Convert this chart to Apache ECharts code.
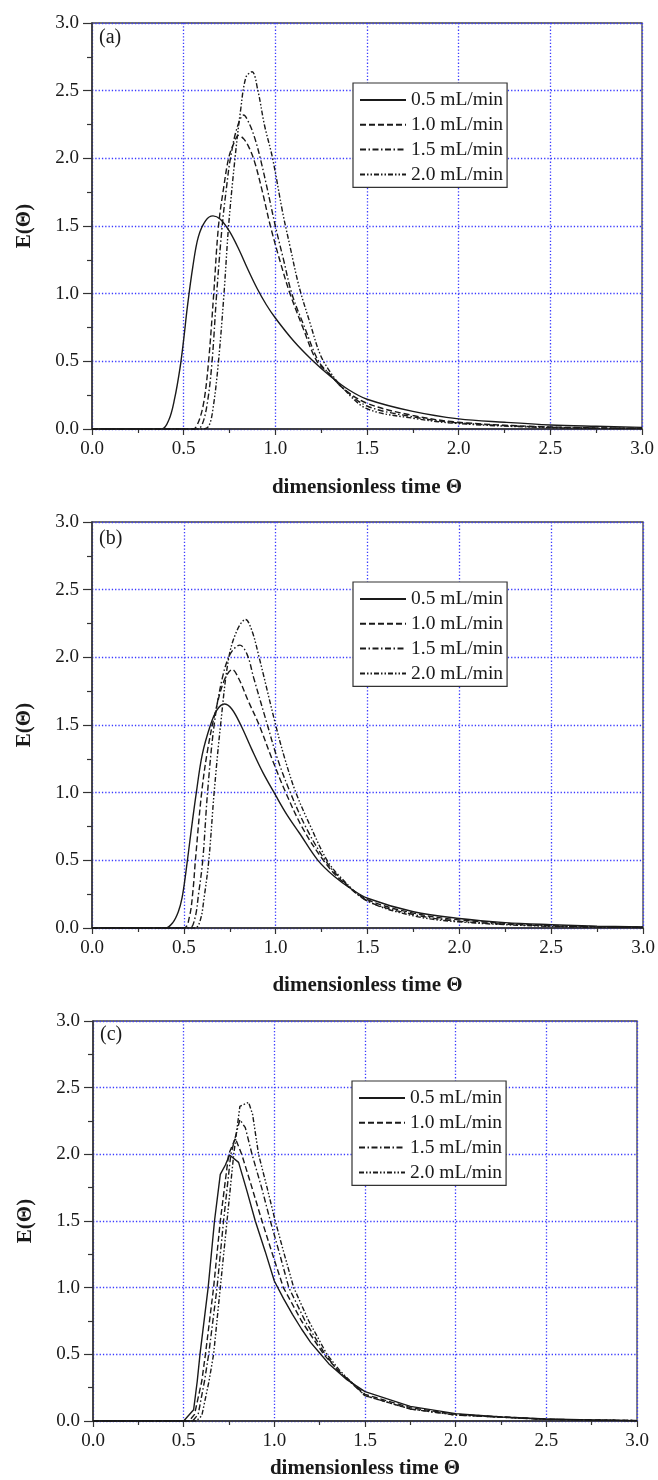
<!DOCTYPE html>
<html><head><meta charset="utf-8">
<script src="https://cdn.jsdelivr.net/npm/echarts@6/dist/echarts.min.js"></script>
<style>html,body{margin:0;padding:0;background:#fff}#c{width:658px;height:1480px}</style>
</head><body><div id="c"></div>
<script>
// ---- labels ----
const seriesNames = ['0.5 mL/min', '1.0 mL/min', '1.5 mL/min', '2.0 mL/min'];
const panelLabels = ['(a)', '(b)', '(c)'];
const xAxisName = 'dimensionless time \u0398';
const yAxisName = 'E(\u0398)';

// ---- panel (a) ----
const a05_t = [0, 0.38, 0.42, 0.45, 0.48, 0.5, 0.52, 0.55, 0.58, 0.62, 0.66, 0.7, 0.75, 0.8, 0.85, 0.9, 0.95, 1.0, 1.1, 1.2, 1.3, 1.4, 1.5, 1.75, 2.0, 2.25, 2.5, 2.75, 3.0];
const a05_E = [0, 0, 0.07, 0.22, 0.45, 0.66, 0.9, 1.2, 1.42, 1.54, 1.575, 1.55, 1.46, 1.33, 1.18, 1.04, 0.92, 0.82, 0.65, 0.51, 0.39, 0.29, 0.22, 0.13, 0.075, 0.05, 0.03, 0.02, 0.012];
const a10_t = [0, 0.55, 0.58, 0.61, 0.636, 0.664, 0.69, 0.72, 0.745, 0.77, 0.8, 0.83, 0.86, 0.89, 0.93, 0.973, 1.03, 1.08, 1.15, 1.227, 1.3, 1.37, 1.5, 1.75, 2.0, 2.5, 3.0];
const a10_E = [0, 0, 0.05, 0.2, 0.5, 1.0, 1.5, 1.8, 2.0, 2.1, 2.17, 2.14, 2.07, 1.96, 1.75, 1.5, 1.22, 1.0, 0.75, 0.5, 0.4, 0.3, 0.19, 0.1, 0.05, 0.015, 0.005];
const a15_t = [0, 0.57, 0.6, 0.63, 0.655, 0.68, 0.71, 0.735, 0.755, 0.79, 0.827, 0.86, 0.89, 0.918, 0.96, 1.0, 1.045, 1.09, 1.16, 1.236, 1.3, 1.37, 1.5, 1.75, 2.0, 2.5, 3.0];
const a15_E = [0, 0, 0.03, 0.2, 0.5, 1.0, 1.5, 1.8, 2.0, 2.22, 2.32, 2.25, 2.14, 2.0, 1.75, 1.5, 1.25, 1.0, 0.75, 0.5, 0.4, 0.3, 0.17, 0.09, 0.045, 0.013, 0.004];
const a20_t = [0, 0.6, 0.636, 0.66, 0.69, 0.72, 0.745, 0.78, 0.81, 0.84, 0.873, 0.905, 0.94, 0.985, 1.04, 1.08, 1.13, 1.19, 1.245, 1.3, 1.37, 1.5, 1.75, 2.0, 2.5, 3.0];
const a20_E = [0, 0, 0.02, 0.15, 0.5, 1.0, 1.5, 2.0, 2.35, 2.6, 2.64, 2.5, 2.25, 2.0, 1.6, 1.35, 1.05, 0.78, 0.55, 0.42, 0.3, 0.15, 0.08, 0.04, 0.01, 0.003];

// ---- panel (b) ----
const b05_t = [0, 0.4, 0.44, 0.47, 0.49, 0.51, 0.54, 0.568, 0.6, 0.645, 0.68, 0.72, 0.76, 0.81, 0.87, 0.93, 1.0, 1.06, 1.13, 1.23, 1.32, 1.41, 1.5, 1.75, 2.0, 2.25, 2.5, 2.75, 3.0];
const b05_E = [0, 0, 0.04, 0.12, 0.22, 0.4, 0.72, 1.0, 1.28, 1.5, 1.61, 1.655, 1.62, 1.5, 1.32, 1.15, 0.98, 0.84, 0.7, 0.5, 0.38, 0.29, 0.22, 0.12, 0.07, 0.04, 0.025, 0.014, 0.008];
const b10_t = [0, 0.5, 0.53, 0.55, 0.563, 0.597, 0.63, 0.672, 0.72, 0.764, 0.8, 0.85, 0.91, 0.98, 1.055, 1.15, 1.26, 1.35, 1.5, 1.75, 2.0, 2.5, 3.0];
const b10_E = [0, 0, 0.08, 0.28, 0.5, 1.0, 1.32, 1.6, 1.83, 1.91, 1.84, 1.68, 1.5, 1.25, 1.0, 0.73, 0.5, 0.36, 0.21, 0.11, 0.06, 0.018, 0.006];
const b15_t = [0, 0.53, 0.56, 0.58, 0.603, 0.629, 0.665, 0.71, 0.755, 0.805, 0.845, 0.88, 0.955, 1.01, 1.08, 1.17, 1.27, 1.35, 1.5, 1.75, 2.0, 2.5, 3.0];
const b15_E = [0, 0, 0.07, 0.25, 0.5, 1.0, 1.5, 1.85, 2.03, 2.09, 2.02, 1.85, 1.5, 1.25, 1.0, 0.73, 0.5, 0.37, 0.2, 0.1, 0.05, 0.015, 0.005];
const b20_t = [0, 0.56, 0.59, 0.61, 0.636, 0.665, 0.7, 0.745, 0.79, 0.836, 0.87, 0.91, 1.0, 1.05, 1.11, 1.19, 1.28, 1.35, 1.5, 1.75, 2.0, 2.5, 3.0];
const b20_E = [0, 0, 0.06, 0.22, 0.5, 1.0, 1.5, 2.0, 2.2, 2.28, 2.2, 2.0, 1.5, 1.25, 1.0, 0.75, 0.5, 0.38, 0.2, 0.09, 0.045, 0.012, 0.004];

// ---- panel (c) ----
const c05_t = [0, 0.5, 0.555, 0.575, 0.59, 0.635, 0.67, 0.702, 0.73, 0.753, 0.803, 0.85, 0.895, 0.95, 1.0, 1.05, 1.1, 1.15, 1.2, 1.25, 1.3, 1.4, 1.5, 1.75, 2.0, 2.25, 2.5, 2.75, 3.0];
const c05_E = [0, 0, 0.085, 0.3, 0.5, 1.0, 1.5, 1.85, 1.92, 1.995, 1.94, 1.72, 1.5, 1.27, 1.05, 0.92, 0.8, 0.69, 0.59, 0.51, 0.43, 0.31, 0.22, 0.11, 0.055, 0.03, 0.015, 0.007, 0.003];
const c10_t = [0, 0.53, 0.56, 0.6, 0.62, 0.665, 0.702, 0.748, 0.785, 0.82, 0.87, 0.932, 0.99, 1.05, 1.15, 1.272, 1.35, 1.5, 1.75, 2.0, 2.5, 3.0];
const c10_E = [0, 0, 0.05, 0.3, 0.5, 1.0, 1.5, 2.0, 2.12, 2.0, 1.78, 1.5, 1.25, 1.0, 0.75, 0.5, 0.38, 0.2, 0.1, 0.05, 0.013, 0.003];
const c15_t = [0, 0.55, 0.58, 0.615, 0.638, 0.684, 0.72, 0.76, 0.81, 0.84, 0.877, 0.93, 0.978, 1.03, 1.08, 1.17, 1.28, 1.35, 1.5, 1.75, 2.0, 2.5, 3.0];
const c15_E = [0, 0, 0.05, 0.3, 0.5, 1.0, 1.5, 2.0, 2.26, 2.2, 2.0, 1.75, 1.5, 1.25, 1.0, 0.75, 0.5, 0.38, 0.19, 0.09, 0.045, 0.012, 0.003];
const c20_t = [0, 0.57, 0.6, 0.64, 0.665, 0.702, 0.739, 0.776, 0.81, 0.858, 0.88, 0.913, 0.96, 1.005, 1.055, 1.107, 1.19, 1.29, 1.36, 1.5, 1.75, 2.0, 2.5, 3.0];
const c20_E = [0, 0, 0.04, 0.3, 0.5, 1.0, 1.5, 2.0, 2.36, 2.39, 2.3, 2.0, 1.75, 1.5, 1.25, 1.0, 0.75, 0.5, 0.38, 0.19, 0.09, 0.045, 0.012, 0.003];

// ---- build ----
const SERIF = '"Liberation Serif", "Times New Roman", serif';
const INK = '#1a1a1a';
const AX = '#333';
const dashes = ['solid', [6, 3], [6, 2.5, 1.5, 2.5], [5, 2, 1.5, 2, 1.5, 2]];
const panels = [
  [[a05_t, a05_E], [a10_t, a10_E], [a15_t, a15_E], [a20_t, a20_E]],
  [[b05_t, b05_E], [b10_t, b10_E], [b15_t, b15_E], [b20_t, b20_E]],
  [[c05_t, c05_E], [c10_t, c10_E], [c15_t, c15_E], [c20_t, c20_E]]
];
const zip = (t, e) => t.map((v, i) => [v, e[i]]);

const grids = [
  {left: 92, top: 23, width: 550, height: 406},
  {left: 92, top: 522, width: 551, height: 406},
  {left: 93, top: 1021, width: 544, height: 402}
];
const xNameGaps = [48, 47, 37];
const legendPos = [{left: 353, top: 83}, {left: 353, top: 582}, {left: 352, top: 1081}];
const labelTops = [28, 529, 1025];

const option = {
  animation: false,
  backgroundColor: '#fff',
  grid: grids.map(g => Object.assign({show: true, borderColor: '#444', borderWidth: 1.3, backgroundColor: 'transparent'}, g)),
  title: panelLabels.map((t, i) => ({
    text: t, left: grids[i].left + 7, top: labelTops[i], padding: 0,
    textStyle: {fontFamily: SERIF, fontWeight: 'normal', fontSize: 20, color: INK}
  })),
  legend: legendPos.map(p => ({
    data: seriesNames.map(n => ({name: n, itemStyle: {opacity: 0}})),
    orient: 'vertical', left: p.left, top: p.top,
    itemWidth: 46, itemHeight: 14, itemGap: 4.8, padding: [7, 4, 3, 6],
    borderColor: '#333', borderWidth: 1.2, backgroundColor: '#fff',
    itemStyle: {opacity: 0},
    textStyle: {fontFamily: SERIF, fontSize: 19.5, color: INK},
    selectedMode: false
  })),
  xAxis: grids.map((g, i) => ({
    type: 'value', gridIndex: i, min: 0, max: 3, interval: 0.5,
    name: xAxisName, nameLocation: 'middle', nameGap: xNameGaps[i],
    nameTextStyle: {fontFamily: SERIF, fontWeight: 'bold', fontSize: 21, color: INK},
    axisLine: {show: true, onZero: false, lineStyle: {color: AX, width: 1.5}},
    axisTick: {show: true, length: 6, lineStyle: {color: AX, width: 1.2}},
    minorTick: {show: true, splitNumber: 2, length: 4, lineStyle: {color: AX, width: 1.2}},
    axisLabel: {fontFamily: SERIF, fontSize: 19, color: INK, margin: 11, formatter: v => v.toFixed(1)},
    splitLine: {show: true, lineStyle: {color: '#3b3bff', type: [1.3, 2], width: 1.3}}
  })),
  yAxis: grids.map((g, i) => ({
    type: 'value', gridIndex: i, min: 0, max: 3, interval: 0.5,
    name: yAxisName, nameLocation: 'middle', nameGap: 57,
    nameTextStyle: {fontFamily: SERIF, fontWeight: 'bold', fontSize: 21, color: INK},
    axisLine: {show: true, onZero: false, lineStyle: {color: AX, width: 1.5}},
    axisTick: {show: true, length: 9, lineStyle: {color: AX, width: 1.2}},
    minorTick: {show: true, splitNumber: 2, length: 5, lineStyle: {color: AX, width: 1.2}},
    axisLabel: {fontFamily: SERIF, fontSize: 19, color: INK, margin: 13, formatter: v => v.toFixed(1)},
    splitLine: {show: true, lineStyle: {color: '#3b3bff', type: [1.3, 2], width: 1.3}}
  })),
  series: []
};

panels.forEach((panel, pi) => {
  panel.forEach((s, si) => {
    option.series.push({
      type: 'line', name: seriesNames[si], xAxisIndex: pi, yAxisIndex: pi,
      data: zip(s[0], s[1]),
      showSymbol: false, symbol: 'none',
      smooth: pi === 2 ? false : 0.35,
      lineStyle: {color: INK, width: 1.4, type: dashes[si]},
      itemStyle: {color: INK},
      z: 3
    });
  });
});

const chart = echarts.init(document.getElementById('c'), null, {renderer: 'canvas'});
chart.setOption(option);
</script>
</body></html>
